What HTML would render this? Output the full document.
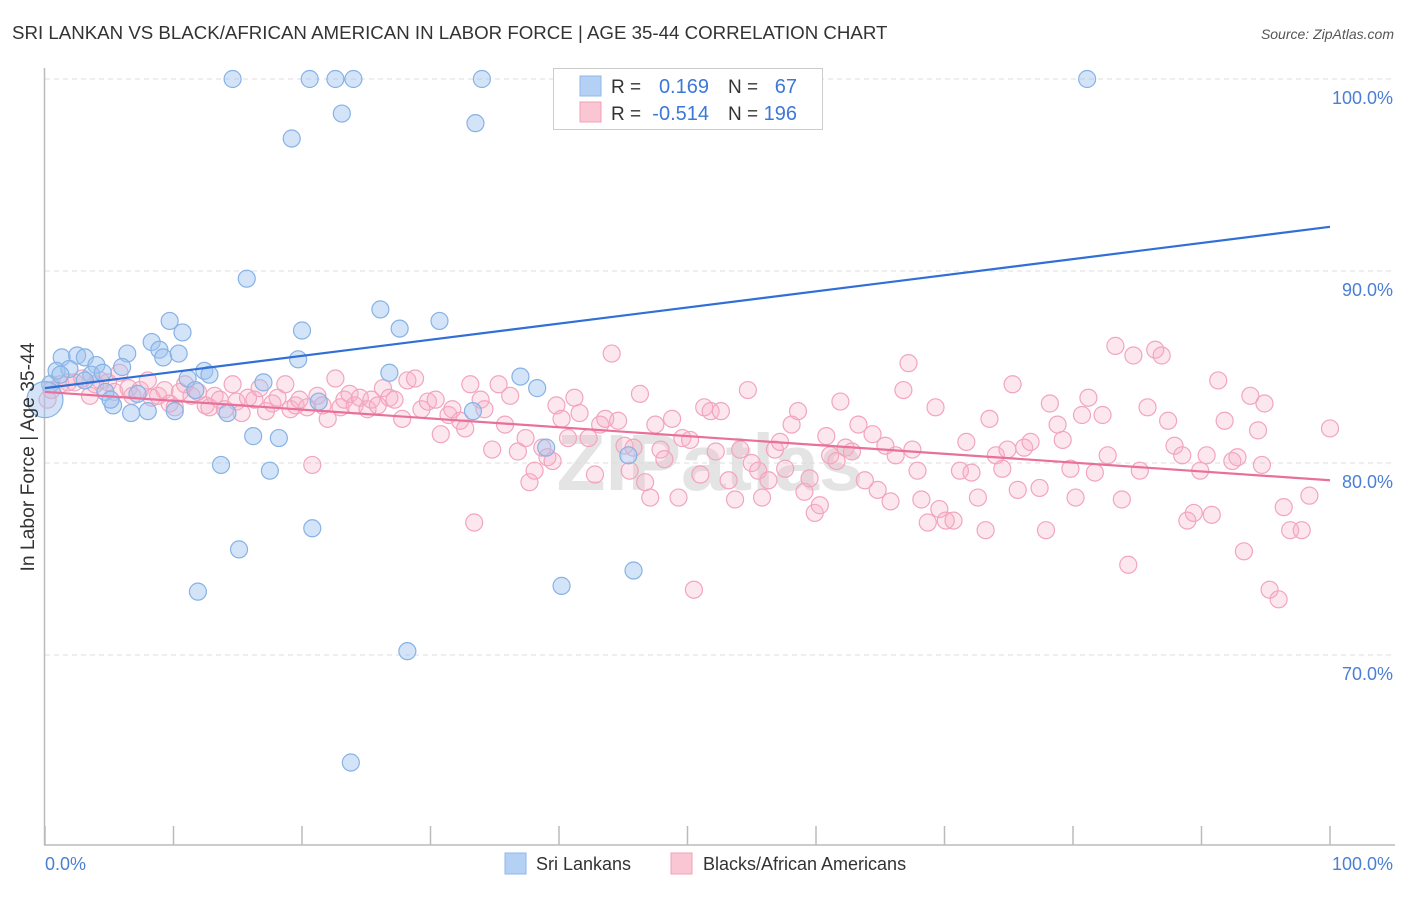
<!DOCTYPE html>
<html><head><meta charset="utf-8">
<style>
body{margin:0;background:#fff;font-family:"Liberation Sans",sans-serif;}
svg text{font-family:"Liberation Sans",sans-serif;}
</style></head>
<body>
<svg id="chart" width="1406" height="892" xmlns="http://www.w3.org/2000/svg">
<text x="12" y="39" font-size="18.7" fill="#333">SRI LANKAN VS BLACK/AFRICAN AMERICAN IN LABOR FORCE | AGE 35-44 CORRELATION CHART</text>
<text x="1394" y="39" font-size="14" fill="#555" text-anchor="end" font-style="italic">Source: ZipAtlas.com</text>
<text x="710" y="490" font-size="80" fill="#e4e4e4" text-anchor="middle" font-family="Liberation Serif" font-weight="bold">ZIPatlas</text>
<g id="grid"></g>
<g id="axes"></g>
<g id="pink"></g>
<g id="blue"></g>
<g id="trends"></g>
<text transform="translate(34,457) rotate(-90)" font-size="19.3" fill="#333" text-anchor="middle">In Labor Force | Age 35-44</text>
<text x="45" y="870" font-size="18" fill="#4a7fd4">0.0%</text>
<text x="1393" y="870" font-size="18" fill="#4a7fd4" text-anchor="end">100.0%</text>
<g>
<rect x="553.5" y="68.5" width="269" height="61" fill="#fff" stroke="#ccc"/>
<rect x="580" y="76" width="21" height="20" fill="#b5d0f5" stroke="#8fb8e8"/>
<rect x="580" y="102" width="21" height="20" fill="#fbc6d4" stroke="#f0a0b8"/>
<text x="611" y="93" font-size="19" fill="#333">R =</text>
<text x="709" y="93" font-size="20" fill="#3c78d8" text-anchor="end">0.169</text>
<text x="728" y="93" font-size="19" fill="#333">N =</text>
<text x="797" y="93" font-size="20" fill="#3c78d8" text-anchor="end">67</text>
<text x="611" y="120" font-size="19" fill="#333">R =</text>
<text x="709" y="120" font-size="20" fill="#3c78d8" text-anchor="end">-0.514</text>
<text x="728" y="120" font-size="19" fill="#333">N =</text>
<text x="797" y="120" font-size="20" fill="#3c78d8" text-anchor="end">196</text>
</g>
<g>
<rect x="505" y="853" width="21" height="21" fill="#b5d0f5" stroke="#8fb8e8"/>
<text x="536" y="870" font-size="18" fill="#333">Sri Lankans</text>
</g>
<g>
<rect x="671" y="853" width="21" height="21" fill="#fbc6d4" stroke="#f0a0b8"/>
<text x="703" y="870" font-size="18" fill="#333">Blacks/African Americans</text>
</g>
</svg>
<script>
const yTicks=[70,80,90,100];
const yTickLabels=["70.0%","80.0%","90.0%","100.0%"];
const xTicks=[0,10,20,30,40,50,60,70,80,90,100];
const blueX=[14.6,20.6,22.6,24.0,34.0,81.1,23.1,33.5,19.2,15.7,26.1,20.0,27.6,30.7,9.7,10.7,8.3,6.4,8.9,9.2,10.4,19.7,1.3,2.5,3.1,4.0,6.0,0.9,1.9,3.6,4.5,12.4,12.8,11.1,17.0,26.8,37.0,38.3,0.4,4.7,7.2,5.3,6.7,8.0,10.1,14.2,21.3,33.3,16.2,18.2,13.7,17.5,39.0,45.4,20.8,15.1,11.9,40.2,45.8,28.2,23.8,0,11.7,5.1,1.2,3.1];
const blueY=[100,100,100,100,100,100,98.2,97.7,96.9,89.6,88.0,86.9,87.0,87.4,87.4,86.8,86.3,85.7,85.9,85.5,85.7,85.4,85.5,85.6,85.5,85.1,85.0,84.8,84.9,84.6,84.7,84.8,84.6,84.4,84.2,84.7,84.5,83.9,84.1,83.7,83.6,83.0,82.6,82.7,82.7,82.6,83.2,82.7,81.4,81.3,79.9,79.6,80.8,80.4,76.6,75.5,73.3,73.6,74.4,70.2,64.4,83.3,83.8,83.3,84.6,84.3];
const pinkX=[0.2,0.5,1.2,1.8,2.3,2.9,3.5,3.9,4.3,4.9,5.4,5.8,6.5,6.8,7.4,8.0,8.3,8.8,9.3,9.7,10.1,10.5,10.9,11.4,11.9,12.5,12.8,13.2,13.6,14.0,14.6,14.9,15.3,15.8,16.3,16.7,17.2,17.7,18.1,18.7,19.1,19.5,19.8,20.4,20.8,21.2,21.6,22.0,22.6,23.0,23.3,23.7,24.1,24.5,25.1,25.4,25.9,26.3,26.8,27.2,27.8,28.2,28.8,29.3,29.8,30.4,30.8,31.4,31.7,32.3,32.7,33.1,33.4,33.9,34.2,34.8,35.3,35.8,36.2,36.8,37.4,37.7,38.1,38.7,39.1,39.5,39.8,40.2,40.7,41.2,41.6,42.3,42.8,43.2,43.6,44.1,44.6,45.1,45.5,45.8,46.3,46.7,47.1,47.5,47.9,48.2,48.8,49.3,49.6,50.2,50.5,51.0,51.3,51.8,52.2,52.6,53.2,53.7,54.1,54.7,55.0,55.5,55.8,56.3,56.8,57.2,57.6,58.1,58.6,59.1,59.5,59.9,60.3,60.8,61.1,61.6,61.9,62.3,62.8,63.3,63.8,64.4,64.8,65.4,65.8,66.2,66.8,67.2,67.5,67.9,68.2,68.7,69.3,69.6,70.1,70.7,71.2,71.7,72.1,72.6,73.2,73.5,74.0,74.5,74.9,75.3,75.7,76.2,76.7,77.4,77.9,78.2,78.8,79.2,79.8,80.2,80.7,81.2,81.7,82.3,82.7,83.3,83.8,84.3,84.7,85.2,85.8,86.4,86.9,87.4,87.9,88.5,88.9,89.4,89.9,90.4,90.8,91.3,91.8,92.4,92.8,93.3,93.8,94.4,94.9,95.3,96.0,96.4,96.9,97.8,98.4,100,94.7];
const pinkY=[83.3,83.8,84.1,84.2,84.2,84.4,83.5,84.1,84.3,84.2,83.7,84.7,83.9,83.5,83.8,84.3,83.4,83.5,83.8,83.1,82.9,83.7,84.1,83.5,83.7,83.0,82.9,83.5,83.3,82.8,84.1,83.2,82.6,83.4,83.3,83.9,82.7,83.1,83.4,84.1,82.8,83.0,83.3,82.9,79.9,83.5,83.0,82.3,84.4,82.9,83.3,83.6,83.0,83.4,82.8,83.3,83.0,83.9,83.4,83.3,82.3,84.3,84.4,82.8,83.2,83.3,81.5,82.5,82.8,82.2,81.8,84.1,76.9,83.3,82.8,80.7,84.1,82.0,83.5,80.6,81.3,79.0,79.6,80.8,80.3,80.1,83.0,82.3,81.3,83.4,82.6,81.3,79.4,82.0,82.3,85.7,82.2,80.9,79.6,80.8,83.6,79.0,78.2,82.0,80.7,80.2,82.3,78.2,81.3,81.2,73.4,79.4,82.9,82.7,80.6,82.7,79.1,78.1,80.7,83.8,80.0,79.6,78.2,79.1,80.7,81.1,79.7,82.0,82.7,78.5,79.2,77.4,77.8,81.4,80.4,80.1,83.2,80.8,80.6,82.0,79.1,81.5,78.6,80.9,78.0,80.4,83.8,85.2,80.7,79.6,78.1,76.9,82.9,77.6,77.0,77.0,79.6,81.1,79.5,78.2,76.5,82.3,80.4,79.7,80.7,84.1,78.6,80.8,81.1,78.7,76.5,83.1,82.0,81.2,79.7,78.2,82.5,83.4,79.5,82.5,80.4,86.1,78.1,74.7,85.6,79.6,82.9,85.9,85.6,82.2,80.9,80.4,77.0,77.4,79.6,80.4,77.3,84.3,82.2,80.1,80.3,75.4,83.5,81.7,83.1,73.4,72.9,77.7,76.5,76.5,78.3,81.8,79.9];
const blueTrend=[83.9,92.3];
const pinkTrend=[83.7,79.1];

const NS="http://www.w3.org/2000/svg";
const X0=45,X1=1330,YTOP=79,PXPER=19.2;
function sx(v){return X0+(X1-X0)*v/100;}
function sy(v){return YTOP+(100-v)*PXPER;}
function mk(tag,attrs,parent){const e=document.createElementNS(NS,tag);for(const k in attrs)e.setAttribute(k,attrs[k]);parent.appendChild(e);return e;}

const grid=document.getElementById('grid');
yTicks.forEach((t,i)=>{
  const l=mk('line',{x1:45,x2:1395,y1:sy(t),y2:sy(t),stroke:'#dcdcdc','stroke-dasharray':'5,4'},grid);
  
  
  const tx=mk('text',{x:1393,y:sy(t)+25,'font-size':18,fill:'#4a7fd4','text-anchor':'end'},grid);
  tx.textContent=yTickLabels[i];
  
  
});
const axes=document.getElementById('axes');
const ya=mk('line',{x1:44.5,x2:44.5,y1:68,y2:845,stroke:'#bbb','stroke-width':1.5},axes);


const xa=mk('line',{x1:44,x2:1395,y1:845,y2:845,stroke:'#bbb','stroke-width':1.5},axes);


xTicks.forEach(t=>{
  const l=mk('line',{x1:sx(t),x2:sx(t),y1:826,y2:845,stroke:'#bbb','stroke-width':1.5},axes);
  
  
});
const pg=document.getElementById('pink');
pinkX.forEach((v,i)=>{
  const c=mk('circle',{cx:sx(v),cy:sy(pinkY[i]),r:8.5,fill:'rgba(248,175,198,0.3)',stroke:'#f2a5bd','stroke-width':1.2},pg);
  
  
});
const bg=document.getElementById('blue');
blueX.forEach((v,i)=>{
  const r=(v===0)?18:8.5;
  const c=mk('circle',{cx:sx(v),cy:sy(blueY[i]),r:r,fill:'rgba(160,196,240,0.45)',stroke:'#86b2e6','stroke-width':1.2},bg);
  
  
});
const tg=document.getElementById('trends');
const bt=mk('line',{x1:sx(0),y1:sy(blueTrend[0]),x2:sx(100),y2:sy(blueTrend[1]),stroke:'#2f6fd6','stroke-width':2.2},tg);


const pt=mk('line',{x1:sx(0),y1:sy(pinkTrend[0]),x2:sx(100),y2:sy(pinkTrend[1]),stroke:'#e8709a','stroke-width':2.2},tg);


</script>
</body></html>
